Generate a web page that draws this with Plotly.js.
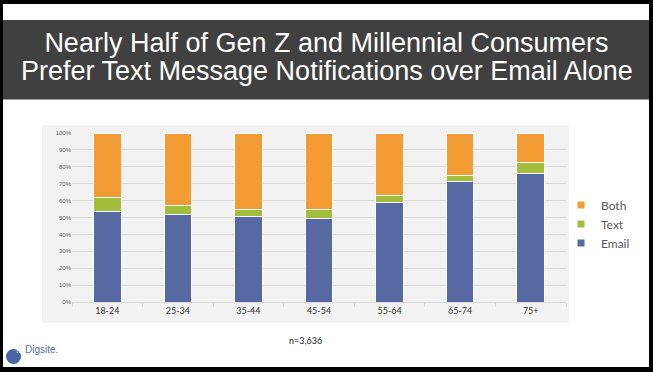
<!DOCTYPE html>
<html>
<head>
<meta charset="utf-8">
<script src="https://cdn.plot.ly/plotly-3.0.1.min.js"></script>
<style>
html,body{margin:0;padding:0;background:#000;overflow:hidden;width:653px;height:372px;}
#frame{position:absolute;left:3px;top:4px;width:646px;height:363px;background:#ffffff;}
#band{position:absolute;left:3px;top:20px;width:646px;height:79px;background:#404040;border-bottom:1px solid #9a9a9a;}
#chart{position:absolute;left:3px;top:5px;width:646px;height:362px;}
</style>
</head>
<body>
<div id="frame"></div>
<div id="band"></div>
<div id="chart"></div>
<script>
const categories = ["18-24", "25-34", "35-44", "45-54", "55-64", "65-74", "75+"];
const emailValues = [53.5, 52, 50.5, 49.5, 59, 71.5, 76];
const textValues = [8.5, 5, 4.5, 5.5, 4, 3.5, 6.5];
const bothValues = [38, 43, 45, 45, 37, 25, 17.5];
const seriesNames = ["Email", "Text", "Both"];
const seriesColors = ["#5669a3", "#a3bd3d", "#f39c33"];
const yTickValues = [0, 10, 20, 30, 40, 50, 60, 70, 80, 90, 100];
const yTickLabels = ["0%", "10%", "20%", "30%", "40%", "50%", "60%", "70%", "80%", "90%", "100%"];
const titleLines = ["Nearly Half of Gen Z and Millennial Consumers", "Prefer Text Message Notifications over Email Alone"];

// page offset of the chart div
const OX = 3, OY = 5;
const W = 646, H = 362;
const M = {l: 69, r: 83, t: 128, b: 65, autoexpand: false};
const PW = W - M.l - M.r, PH = H - M.t - M.b;
const px = v => (v - OX - M.l) / PW;
const py = v => (H - M.b - (v - OY)) / PH;
function rect(x0, y0, x1, y1, color) {
  return {type: 'rect', xref: 'paper', yref: 'paper', layer: 'below',
    x0: px(x0), x1: px(x1), y0: py(y1), y1: py(y0),
    fillcolor: color, line: {width: 0}};
}

const seriesValues = [emailValues, textValues, bothValues];
const traces = seriesValues.map((vals, i) => ({
  type: 'bar', x: categories, y: vals, name: seriesNames[i],
  legendgroup: seriesNames[i], showlegend: false, hoverinfo: 'skip',
  marker: {color: seriesColors[i], line: {color: '#ffffff', width: 1}}
}));
// legend entries with small square swatches
seriesNames.forEach((n, i) => traces.push({
  type: 'scatter', mode: 'markers', x: [null], y: [null], name: n,
  legendgroup: n, showlegend: true, hoverinfo: 'skip',
  marker: {symbol: 'square', size: 7, color: seriesColors[i]}
}));

const titleFont = {family: 'Liberation Sans, Arial, sans-serif', size: 27, color: '#ffffff'};

const layout = {
  width: W, height: H,
  margin: M,
  paper_bgcolor: 'rgba(0,0,0,0)',
  plot_bgcolor: 'rgba(0,0,0,0)',
  barmode: 'stack',
  bargap: 0.61,
  showlegend: true,
  title: {
    text: titleLines[0],
    font: titleFont,
    xref: 'container', x: (326.5 - OX) / W, xanchor: 'center',
    yref: 'container', y: 1 - (42.6 - OY) / H, yanchor: 'middle'
  },
  legend: {
    x: px(561), xanchor: 'left', y: py(224), yanchor: 'middle',
    traceorder: 'reversed',
    font: {family: 'Lato, Liberation Sans, sans-serif', size: 12, color: '#595959'},
    bgcolor: 'rgba(0,0,0,0)', itemwidth: 30, tracegroupgap: 0
  },
  xaxis: {
    tickfont: {family: 'Lato, Liberation Sans, sans-serif', size: 9, color: '#333333'},
    showgrid: false, showline: true, linecolor: '#d9d9d9', linewidth: 1,
    ticks: 'outside', tickson: 'boundaries', ticklen: 4, tickcolor: '#d9d9d9',
    fixedrange: true
  },
  yaxis: {
    range: [0, 100], tickvals: yTickValues, ticktext: yTickLabels,
    tickfont: {family: 'Liberation Sans, sans-serif', size: 6, color: '#595959'},
    showgrid: true, gridcolor: '#d9d9d9', gridwidth: 1, zeroline: false,
    showline: false, ticks: '', fixedrange: true
  },
  shapes: [
    rect(42, 125, 569, 323, '#f2f2f2'),
    {type: 'circle', xref: 'paper', yref: 'paper', layer: 'above',
      x0: px(6), x1: px(21), y0: py(364), y1: py(349), fillcolor: '#4a64a8', line: {width: 0}}
  ],
  annotations: [
    {text: titleLines[1], xref: 'paper', yref: 'paper', x: px(326.5), y: py(70.6),
      xanchor: 'center', yanchor: 'middle', showarrow: false, font: titleFont},
    {text: 'n=3,636', xref: 'paper', yref: 'paper', x: px(305), y: py(348), showarrow: false,
      font: {family: 'Lato, Liberation Sans, sans-serif', size: 9, color: '#222222'}},
    {text: 'Digsite.', xref: 'paper', yref: 'paper', x: px(23), xanchor: 'left', y: py(357), showarrow: false,
      font: {family: 'Liberation Sans, sans-serif', size: 10, color: '#5a6ea8'}},
    {text: '!!', xref: 'paper', yref: 'paper', x: px(13.5), y: py(357), showarrow: false,
      font: {family: 'Liberation Sans, sans-serif', size: 9, color: '#ffffff'}}
  ]
};

Plotly.newPlot('chart', traces, layout, {displayModeBar: false, staticPlot: true});
</script>
</body>
</html>
